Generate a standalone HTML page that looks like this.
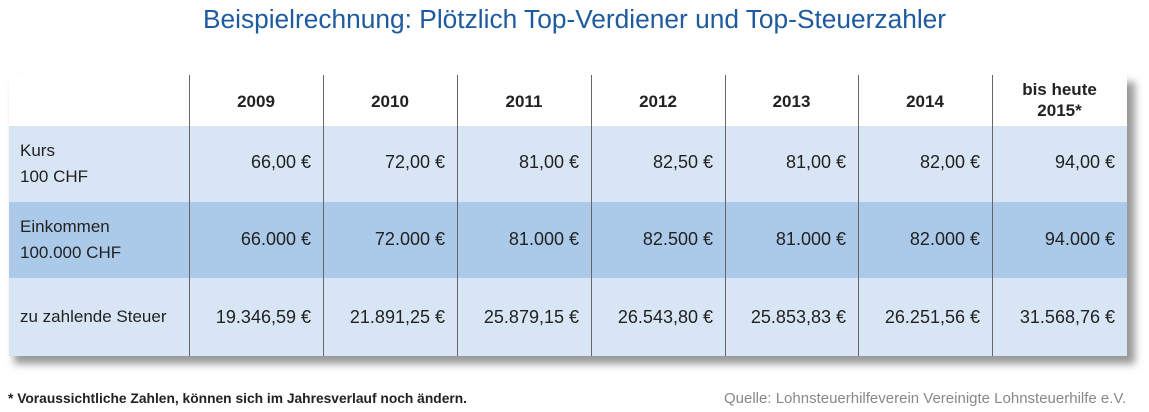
<!DOCTYPE html>
<html><head><meta charset="utf-8"><style>
body{margin:0;width:1149px;height:412px;background:#fff;font-family:"Liberation Sans",sans-serif;position:relative;overflow:hidden}
.t{position:absolute;left:0;width:1149px;top:4px;text-align:center;color:#1d5a9e;font-size:26.3px}
.sh{position:absolute;left:14px;top:82px;width:1121px;height:282px;background:#999;filter:blur(4px)}
.tb{position:absolute;left:9px;top:75px;width:1118px;height:281px;background:#fff}
.r{position:absolute;left:0;width:1118px}
.v{position:absolute;top:0;width:1px;height:281px;background:#666}
.c{position:absolute;font-size:18px;color:#222;text-align:right}
.h{position:absolute;font-size:17px;font-weight:bold;color:#222;text-align:center;line-height:21px}
.l{position:absolute;left:11px;font-size:17px;color:#222;line-height:26px}
.f{position:absolute;top:391px;font-size:13.8px}
</style></head><body>
<div class="t">Beispielrechnung: Plötzlich Top-Verdiener und Top-Steuerzahler</div>
<div class="sh"></div>
<div class="tb">
<div class="r" style="top:51px;height:76px;background:#d7e5f5"></div>
<div class="r" style="top:127px;height:76px;background:#abc9e8"></div>
<div class="r" style="top:203px;height:78px;background:#d7e5f5"></div>
<div class="l" style="top:63px">Kurs<br>100 CHF</div>
<div class="l" style="top:139px">Einkommen<br>100.000 CHF</div>
<div class="l" style="top:229px">zu zahlende Steuer</div>
<div id="cols"></div>
</div>
<div class="f" style="left:8px;font-weight:bold;color:#222">* Voraussichtliche Zahlen, können sich im Jahresverlauf noch ändern.</div>
<div class="f" style="left:724px;color:#888;font-size:15px;top:390px">Quelle: Lohnsteuerhilfeverein Vereinigte Lohnsteuerhilfe e.V.</div>
<script>
var xs=[180,314,448,582,716,849,983,1118];
var h=["2009","2010","2011","2012","2013","2014","bis heute<br>2015*"];
var a=["66,00 €","72,00 €","81,00 €","82,50 €","81,00 €","82,00 €","94,00 €"];
var b=["66.000 €","72.000 €","81.000 €","82.500 €","81.000 €","82.000 €","94.000 €"];
var c=["19.346,59 €","21.891,25 €","25.879,15 €","26.543,80 €","25.853,83 €","26.251,56 €","31.568,76 €"];
var s="";
for(var i=0;i<7;i++){var x=xs[i],w=xs[i+1]-x;
s+='<div class="v" style="left:'+x+'px"></div>';
s+='<div class="h" style="left:'+x+'px;width:'+w+'px;top:'+(i==6?4:16)+'px">'+h[i]+'</div>';
s+='<div class="c" style="left:'+x+'px;width:'+(w-12)+'px;top:77px">'+a[i]+'</div>';
s+='<div class="c" style="left:'+x+'px;width:'+(w-12)+'px;top:154px">'+b[i]+'</div>';
s+='<div class="c" style="left:'+x+'px;width:'+(w-12)+'px;top:232px">'+c[i]+'</div>';}
document.getElementById("cols").innerHTML=s;
</script>
</body></html>
